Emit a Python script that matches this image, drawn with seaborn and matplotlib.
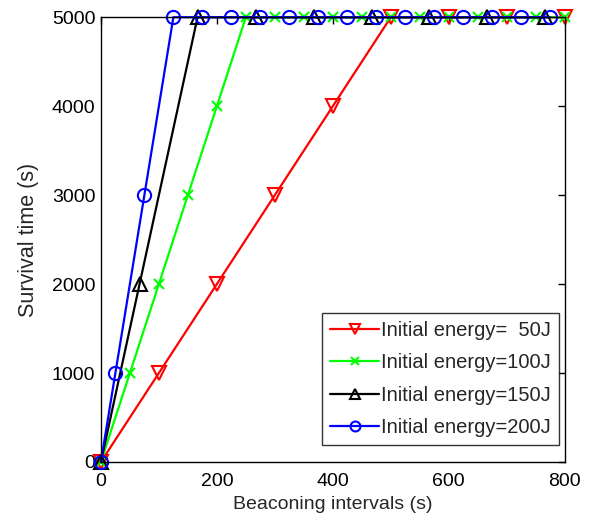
import matplotlib
matplotlib.use("Agg")
import matplotlib.pyplot as plt
import seaborn as sns

sns.set_theme(style="white")
plt.rcParams["font.family"] = ["Liberation Sans", "DejaVu Sans"]

# Beaconing interval (s) and survival time (s) for each initial energy
x_50 = [0, 100, 200, 300, 400, 500, 600, 700, 800]
y_50 = [0, 1000, 2000, 3000, 4000, 5000, 5000, 5000, 5000]

x_100 = [0, 50, 100, 150, 200, 250, 300, 350, 400, 450, 500, 550, 600, 650, 700, 750, 800]
y_100 = [0, 1000, 2000, 3000, 4000, 5000, 5000, 5000, 5000, 5000, 5000, 5000, 5000, 5000, 5000, 5000, 5000]

x_150 = [0, 66.7, 166.7, 266.7, 366.7, 466.7, 566.7, 666.7, 766.7]
y_150 = [0, 2000, 5000, 5000, 5000, 5000, 5000, 5000, 5000]

x_200 = [0, 25, 75, 125, 175, 225, 275, 325, 375, 425, 475, 525, 575, 625, 675, 725, 775]
y_200 = [0, 1000, 3000, 5000, 5000, 5000, 5000, 5000, 5000, 5000, 5000, 5000, 5000, 5000, 5000, 5000, 5000]

labels = ["Initial energy=  50J", "Initial energy=100J", "Initial energy=150J", "Initial energy=200J"]
x_ticks = [0, 200, 400, 600, 800]
y_ticks = [0, 1000, 2000, 3000, 4000, 5000]

series = [
    (x_50, y_50, "#ff0000", "v", 10),
    (x_100, y_100, "#00ff00", "x", 7),
    (x_150, y_150, "#000000", "^", 10),
    (x_200, y_200, "#0000ff", "o", 9.5),
]

fig = plt.figure(figsize=(5.97, 5.22), dpi=100)
ax = fig.add_axes([0.169, 0.115, 0.777, 0.852])

for (xs, ys, col, mk, ms), lab in zip(series, labels):
    face = col if mk == "x" else "none"
    sns.lineplot(x=xs, y=ys, ax=ax, color=col, marker=mk, markersize=ms,
                 markerfacecolor=face, markeredgecolor=col, markeredgewidth=1.5,
                 linewidth=1.6, label=lab, estimator=None, sort=False,
                 clip_on=False)

ax.set_xlim(0, 800)
ax.set_ylim(0, 5000)
ax.set_xticks(x_ticks)
ax.set_yticks(y_ticks)
ax.tick_params(direction="in", length=5, width=1, labelsize=14,
               top=True, right=True, colors="black")
ax.tick_params(axis="x", pad=8)
ax.tick_params(axis="y", pad=4)
for s in ax.spines.values():
    s.set_color("black")
    s.set_linewidth(1.0)
    s.set_visible(True)

ax.set_xlabel("Beaconing intervals (s)", fontsize=14, labelpad=4)
ax.set_ylabel("Survival time (s)", fontsize=15.5, labelpad=9)

leg = ax.legend(loc="lower right", bbox_to_anchor=(0.987, 0.038),
                fontsize=14.5, frameon=True, fancybox=False,
                borderpad=0.4, labelspacing=0.66, handlelength=2.4,
                handletextpad=0.1, borderaxespad=0, markerscale=0.75)
leg.get_frame().set_edgecolor("black")
leg.get_frame().set_linewidth(1.0)

fig.savefig("out.png", dpi=100)
